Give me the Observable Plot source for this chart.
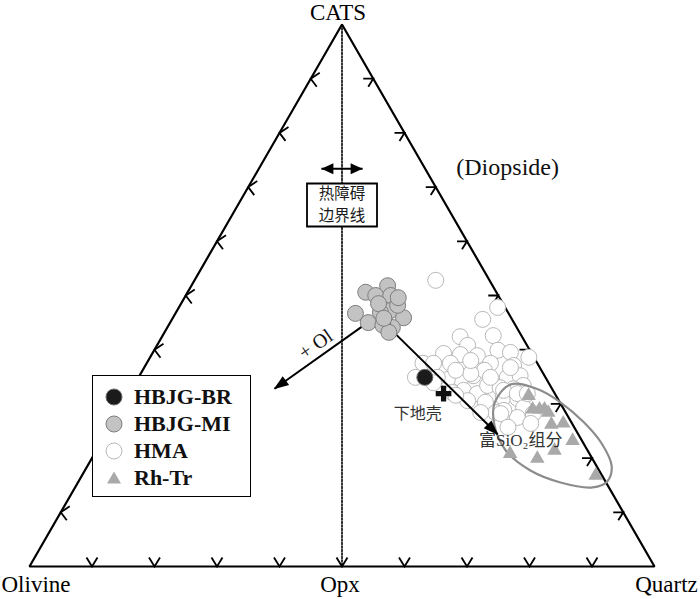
<!DOCTYPE html>
<html><head><meta charset="utf-8">
<script src="https://cdn.jsdelivr.net/npm/d3@7"></script>
<script src="https://cdn.jsdelivr.net/npm/@observablehq/plot@0.6"></script>
<style>
body{margin:0;background:#fff}
#wrap{position:relative;width:700px;height:599px}
#legend{position:absolute;left:92px;top:375px;width:157px;height:120px;border:1.6px solid #000;background:#fff;font-family:"Liberation Serif",serif;font-weight:bold;font-size:22px;color:#111}
.row{position:absolute;left:0;height:24px;line-height:24px;white-space:nowrap}
.row svg{position:absolute;left:11px;top:2px}
.row span{position:absolute;left:41px;top:0}
</style>
</head><body>
<div id="wrap"><div id="chart"></div>
<div id="legend"></div></div>
<script>
// Ternary compositions: Quartz %, CATS %  (Olivine = 100 - Qz - CATS)
const seriesNames = ["HBJG-BR", "HBJG-MI", "HMA", "Rh-Tr"];

const brQz = [45.8];
const brCats = [34.9];

const miQz = [28.5,31.4,30.4,32.8,28.8,31.7,34.1,36.9,36.0,32.7,34.3,35.9,34.8,31.6,34.2,33.8];
const miCats = [50.6,51.8,50.0,50.0,46.7,45.0,47.2,45.9,44.1,46.9,44.5,43.2,48.2,48.5,49.6,45.8];

const hmaQz = [38.6,51.0,49.7,47.7,52.9,60.6,49.7,55.0,57.2,52.2,49.4,46.6,44.2,45.9,48.6,55.0,58.9,53.4,54.7,51.6,59.0,60.9,62.3,53.2,55.7,56.6,58.8,61.0,49.6,47.8,60.2,54.8,57.8,62.6,44.3,47.7,56.3,52.8,58.6,59.6,62.1,64.4,66.5,64.3,67.0,61.5,63.7,50.1,51.6,51.6,60.4,58.0,61.3,63.7,52.4];
const hmaCats = [52.8,47.8,45.6,42.4,42.6,38.6,40.8,39.9,39.5,38.9,39.1,39.3,37.5,37.5,37.5,37.5,37.1,35.2,36.2,34.7,34.9,35.2,33.4,32.5,31.9,33.4,33.0,32.8,34.5,34.9,31.2,30.6,30.3,31.0,34.9,33.9,34.9,35.6,36.7,32.5,31.9,29.3,28.2,27.5,26.4,28.8,31.9,36.2,38.0,32.1,28.4,28.4,28.2,25.7,31.6];

const rhQz = [64.1,66.0,67.1,67.9,68.8,70.4,72.2,75.3,73.3,71.3,66.5,82.2];
const rhCats = [31.5,29.0,29.0,29.0,28.4,26.2,26.4,23.2,21.4,19.9,20.8,16.8];

// lower crust composition
const lcQz = [50.3];
const lcCats = [31.9];

// SiO2-rich field outline
const fieldQz = [60.2,65.0,69.8,75.4,80.2,83.9,84.6,82.8,77.2,71.3,65.5,61.4,59.3];
const fieldCats = [33.6,32.7,30.3,26.6,22.7,18.5,15.7,14.6,15.5,17.7,21.4,26.0,30.3];

// vertices
const vertexNames = ["Olivine", "Quartz", "CATS", "Opx"];
const vertexQz = [0, 100, 0, 50];
const vertexCats = [0, 0, 100, 0];

const tickValues = [10,20,30,40,50,60,70,80,90];

// trend arrows: [from, to] in Qz, CATS
const olArrowQz = [31.1, 22.8];
const olArrowCats = [44.3, 32.8];
const siArrowQz = [36.7, 62.7];
const siArrowCats = [43.2, 24.4];
const barrierArrowQz = [10.0, 16.6];
const barrierArrowCats = [73.4, 73.4];

// annotations
const noteTexts = ["(Diopside)", "+ Ol", "下地壳", "富SiO₂组分", "热障碍", "边界线"];
const noteQz = [39.7, 25.3, 48.0, 67.0, 16.65, 16.65];
const noteCats = [73.6, 41.0, 28.2, 23.2, 66.7, 66.7];

// ---------- build ----------
const W = 700, H = 599, mL = 29, mR = 46, mT = 24, mB = 33;
const kx = (W - mL - mR) / 100, ky = (H - mT - mB) / 100;
const tx = (q, c) => q + c / 2;
const pts = (qs, cs) => qs.map((q, i) => ({x: tx(q, cs[i]), y: cs[i]}));

const tri = pts([0, 100, 0], [0, 0, 100]);
const dash = pts([vertexQz[2], vertexQz[3]], [vertexCats[2], vertexCats[3]]);
const ticksBottom = pts(tickValues, tickValues.map(() => 0));
const ticksLeft = pts(tickValues.map(() => 0), tickValues);
const ticksRight = pts(tickValues.map(t => 100 - t), tickValues);

function arrow(qs, cs) {
  const a = {x: tx(qs[0], cs[0]), y: cs[0]}, b = {x: tx(qs[1], cs[1]), y: cs[1]};
  const ang = Math.atan2(-(b.y - a.y) * ky, (b.x - a.x) * kx) * 180 / Math.PI;
  return {x1: a.x, y1: a.y, x2: b.x, y2: b.y, ang};
}
const arrows = [arrow(olArrowQz, olArrowCats), arrow(siArrowQz, siArrowCats)];
const dbl = arrow(barrierArrowQz, barrierArrowCats);
const dblHeads = [{x: dbl.x1, y: dbl.y1, ang: dbl.ang + 180}, {x: dbl.x2, y: dbl.y2, ang: dbl.ang}];
const heads = arrows.map(a => ({x: a.x2, y: a.y2, ang: a.ang}));

const notes = noteTexts.map((t, i) => ({text: t, x: tx(noteQz[i], noteCats[i]), y: noteCats[i]}));
const verts = vertexNames.map((n, i) => ({name: n, x: tx(vertexQz[i], vertexCats[i]), y: vertexCats[i]}));

// symbols (pixel shapes)
const chevBottom = {draw(ctx){ctx.moveTo(-5.5,-9);ctx.lineTo(0,0);ctx.lineTo(5.5,-9);}};
const chevLeft = {draw(ctx){ctx.moveTo(9,-6);ctx.lineTo(0,0);ctx.lineTo(6,8);}};
const chevRight = {draw(ctx){ctx.moveTo(-10,0);ctx.lineTo(0,0);ctx.lineTo(-5,8);}};
const bigHead = {draw(ctx){ctx.moveTo(1,0);ctx.lineTo(-14,-5.5);ctx.lineTo(-14,5.5);ctx.closePath();}};
const smallHead = {draw(ctx){ctx.moveTo(0,0);ctx.lineTo(-12,-5.5);ctx.lineTo(-12,5.5);ctx.closePath();}};
const boxSym = {draw(ctx){ctx.rect(-35,-21.5,70,43);}};

const serif = "'Liberation Serif', 'Times New Roman', serif";
const cjk = "'Noto Sans CJK SC', sans-serif";

const chart = Plot.plot({
  width: W, height: H,
  marginLeft: mL, marginRight: mR, marginTop: mT, marginBottom: mB,
  x: {domain: [0, 100], axis: null},
  y: {domain: [0, 100], axis: null},
  style: {background: "#fff", overflow: "visible", fontFamily: serif},
  marks: [
    Plot.line(tri, {x: "x", y: "y", curve: "linear-closed", stroke: "#000", strokeWidth: 2.2, strokeLinejoin: "miter"}),
    Plot.line(dash, {x: "x", y: "y", stroke: "#000", strokeWidth: 1.6, strokeDasharray: "2,1.5"}),
    Plot.dot(ticksBottom, {x: "x", y: "y", symbol: chevBottom, fill: "none", stroke: "#000", strokeWidth: 1.8}),
    Plot.dot(ticksLeft, {x: "x", y: "y", symbol: chevLeft, fill: "none", stroke: "#000", strokeWidth: 1.8}),
    Plot.dot(ticksRight, {x: "x", y: "y", symbol: chevRight, fill: "none", stroke: "#000", strokeWidth: 1.8}),
    // HMA
    Plot.dot(pts(hmaQz, hmaCats), {x: "x", y: "y", r: 8, fill: "#fff", stroke: "#b8b8b8", strokeWidth: 1}),
    // SiO2-rich field
    Plot.line(pts(fieldQz, fieldCats), {x: "x", y: "y", curve: "catmull-rom-closed", stroke: "#8c8c8c", strokeWidth: 2.2}),
    // Rh-Tr
    Plot.dot(pts(rhQz, rhCats), {x: "x", y: "y", symbol: "triangle", r: 5.4, fill: "#a9a9a9", stroke: "none"}),
    // arrows
    Plot.link(arrows, {x1: "x1", y1: "y1", x2: "x2", y2: "y2", stroke: "#000", strokeWidth: 2}),
    Plot.dot(heads, {x: "x", y: "y", symbol: bigHead, rotate: "ang", fill: "#000", stroke: "none"}),
    Plot.link([dbl], {x1: "x1", y1: "y1", x2: "x2", y2: "y2", stroke: "#000", strokeWidth: 2}),
    Plot.dot(dblHeads, {x: "x", y: "y", symbol: smallHead, rotate: "ang", fill: "#000", stroke: "none"}),
    // HBJG-MI
    Plot.dot(pts(miQz, miCats), {x: "x", y: "y", r: 8, fill: "#c3c3c3", stroke: "#7d7d7d", strokeWidth: 1}),
    // HBJG-BR
    Plot.dot(pts(brQz, brCats), {x: "x", y: "y", r: 8, fill: "#1b1b1b", stroke: "#6a6a6a", strokeWidth: 1}),
    // lower crust
    Plot.dot(pts(lcQz, lcCats), {x: "x", y: "y", symbol: "cross", r: 6.6, fill: "#111", stroke: "none"}),
    // barrier box
    Plot.dot([notes[4]], {x: "x", y: "y", symbol: boxSym, fill: "#fff", stroke: "#000", strokeWidth: 1.8}),
    Plot.text([notes[4]], {x: "x", y: "y", text: "text", fontFamily: cjk, fontSize: 15.5, dy: -11.4, fill: "#1a1a1a"}),
    Plot.text([notes[5]], {x: "x", y: "y", text: "text", fontFamily: cjk, fontSize: 15.5, dy: 11.4, fill: "#1a1a1a"}),
    // annotations
    Plot.text([notes[0]], {x: "x", y: "y", text: "text", fontSize: 24, fill: "#111"}),
    Plot.text([notes[1]], {x: "x", y: "y", text: "text", fontSize: 20, rotate: -35, fill: "#111"}),
    Plot.text([notes[2]], {x: "x", y: "y", text: "text", fontFamily: cjk, fontSize: 16, fill: "#333"}),
    Plot.text([notes[3]], {x: "x", y: "y", text: "text", fontFamily: serif + ", 'Noto Sans CJK SC'", fontSize: 17, fill: "#333"}),
    // vertex labels
    Plot.text(verts, {x: "x", y: "y", text: "name", fontSize: 23, fill: "#000"})
  ]
});
document.getElementById("chart").appendChild(chart);

// nudge vertex labels away from their vertices
{
  const offs = {"Olivine": [6.5, 18], "Quartz": [12, 18], "CATS": [-4, -12], "Opx": [-2, 18]};
  d3.select(chart).selectAll("text").each(function() {
    const t = this.textContent;
    if (offs[t]) {
      const [ddx, ddy] = offs[t];
      const tr = this.getAttribute("transform") || "";
      this.setAttribute("transform", tr + ` translate(${ddx},${ddy})`);
    }
  });
}

// legend
const legendSymbols = [
  `<circle cx="10" cy="10" r="8" fill="#1b1b1b" stroke="#6a6a6a"/>`,
  `<circle cx="10" cy="10" r="8" fill="#c3c3c3" stroke="#7d7d7d"/>`,
  `<circle cx="10" cy="10" r="8" fill="#fff" stroke="#b8b8b8"/>`,
  `<path d="M10,3.5 L17,15.5 L3,15.5 Z" fill="#a9a9a9"/>`
];
const lg = document.getElementById("legend");
seriesNames.forEach((n, i) => {
  const row = document.createElement("div");
  row.className = "row";
  row.style.top = (9 + i * 27) + "px";
  row.innerHTML = `<svg width="20" height="20">${legendSymbols[i]}</svg><span>${n}</span>`;
  lg.appendChild(row);
});
</script>
</body></html>
